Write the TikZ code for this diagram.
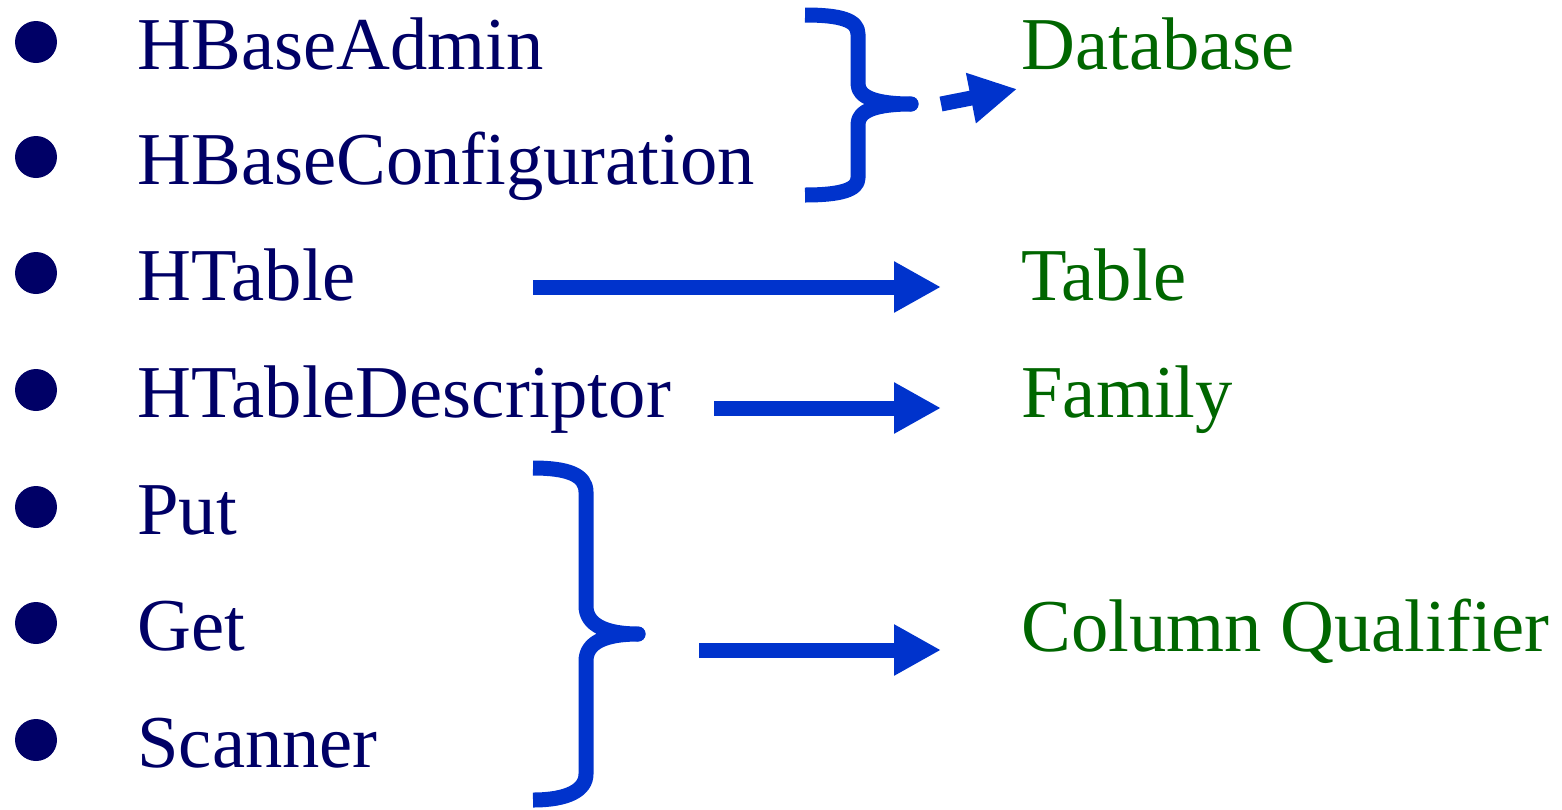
\documentclass[tikz,border=0pt]{standalone}
\usepackage{fontspec}
\setmainfont{Liberation Serif}
\usetikzlibrary{arrows.meta}
\definecolor{navy}{HTML}{000066}
\definecolor{dgreen}{HTML}{006600}
\definecolor{bblue}{HTML}{0033CC}
\begin{document}
\begin{tikzpicture}[x=0.5pt,y=-0.5pt,
  item/.style={anchor=base west,inner sep=0pt,text=navy,font=\fontsize{37.3}{40}\selectfont},
  concept/.style={anchor=base west,inner sep=0pt,text=dgreen,font=\fontsize{37.3}{40}\selectfont},
  dot/.style={circle,fill=navy,minimum size=21pt,inner sep=0pt},
  brace/.style={draw=bblue,line width=7.5pt,line cap=butt,line join=round},
  bigarrow/.style={draw=bblue,line width=7.5pt,-{Triangle[length=23.5pt,width=24pt]}}]
\useasboundingbox (0,0) rectangle (1562,809);
% bullets
\node[dot] (b1) at (36,42) {};
\node[dot] (b2) at (36,157) {};
\node[dot] (b3) at (36,273) {};
\node[dot] (b4) at (36,390) {};
\node[dot] (b5) at (36,507) {};
\node[dot] (b6) at (36,623) {};
\node[dot] (b7) at (36,740) {};
% items
\node[item] (t1) at (137,69) {HBaseAdmin};
\node[item] (t2) at (137,184) {HBaseConfiguration};
\node[item] (t3) at (137,300) {HTable};
\node[item] (t4) at (137,417) {HTableDescriptor};
\node[item] (t5) at (137,534) {Put};
\node[item] (t6) at (137,650) {Get};
\node[item] (t7) at (137,767) {Scanner};
% concepts
\node[concept] (c1) at (1021,69) {Database};
\node[concept] (c2) at (1021,300) {Table};
\node[concept] (c3) at (1021,417) {Family};
\node[concept] (c4) at (1021,651) {Column Qualifier};
% top brace
\draw[brace] (805,15) .. controls (840,15) and (858,20) .. (858,34) -- (858,84)
  .. controls (858,98) and (878,104) .. (911,104)
  .. controls (878,104) and (858,110) .. (858,124) -- (858,178)
  .. controls (858,190) and (840,195) .. (805,195);
\fill[bblue] (911,104) circle (3.75pt);
% bottom brace
\draw[brace] (533,468) .. controls (568,468) and (586,475) .. (586,492) -- (586,606)
  .. controls (586,625) and (606,634) .. (638,634)
  .. controls (606,634) and (586,642) .. (586,661) -- (586,774)
  .. controls (586,790) and (568,800) .. (533,800);
\fill[bblue] (638,634) circle (3.75pt);
% arrow endpoints
\coordinate (a1s) at (941,104);
\coordinate (a1e) at (1017,89);
\coordinate (a2s) at (533,287);
\coordinate (a2e) at (941,287);
\coordinate (a3s) at (714,408);
\coordinate (a3e) at (941,408);
\coordinate (a4s) at (699,650);
\coordinate (a4e) at (941,650);
\draw[bigarrow] (a1s) -- (a1e);
\draw[bigarrow] (a2s) -- (a2e);
\draw[bigarrow] (a3s) -- (a3e);
\draw[bigarrow] (a4s) -- (a4e);
\end{tikzpicture}
\end{document}
